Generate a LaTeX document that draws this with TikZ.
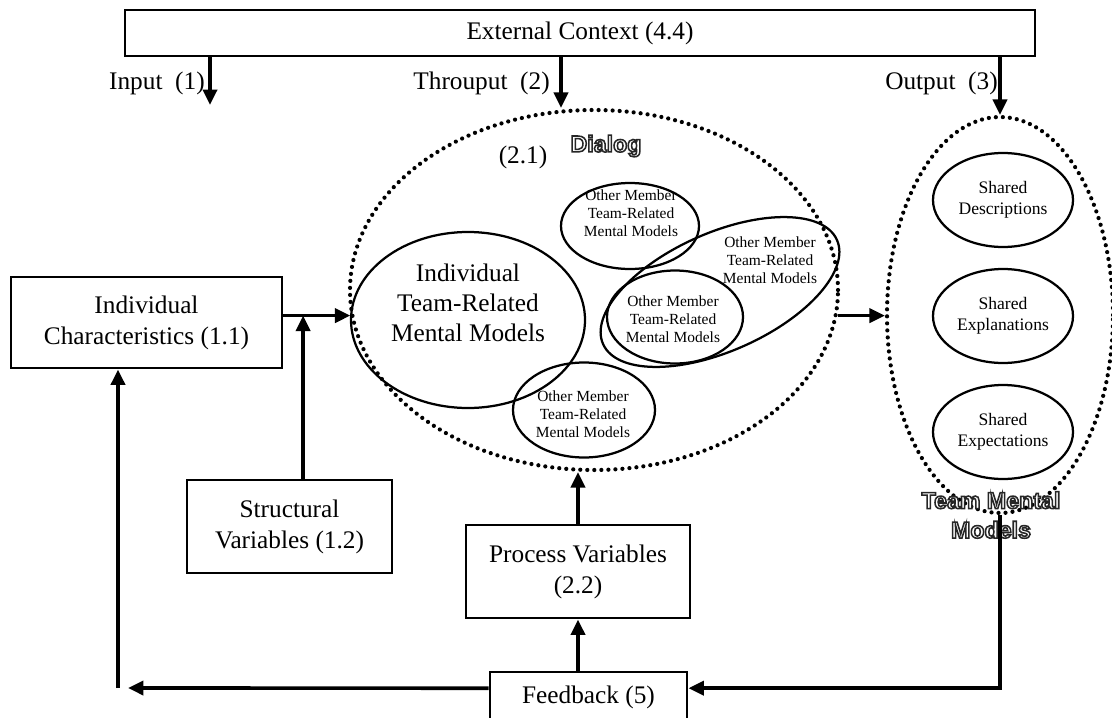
\documentclass[tikz,border=0pt]{standalone}
\usepackage{fontspec}
\setmainfont{Liberation Serif}
\newfontfamily\outfont{Liberation Sans}
\usetikzlibrary{shapes.geometric,arrows.meta}
\newcommand{\hollow}[1]{\textcolor{white}{\special{pdf:literal direct 2 Tr 1.1 w 0.15 G}#1\special{pdf:literal direct 0 Tr}}}

\begin{document}
\begin{tikzpicture}[
	blk/.style={draw, line width=2.1pt, align=center, inner sep=0pt, font=\fontsize{18}{22}\selectfont},
	ov/.style={draw, ellipse, line width=1.6pt, inner sep=0pt},
	dotring/.style={draw, ellipse, inner sep=0pt, line width=3pt, dash pattern=on 0pt off 5pt, line cap=round},
	arr/.style={-{Triangle[length=11pt,width=10pt]}, line width=2.6pt},
	lbl/.style={font=\fontsize{18}{22}\selectfont, align=center, inner sep=0pt},
	omtxt/.style={font=\fontsize{11}{12.8}\selectfont, align=center, inner sep=0pt},
	shr/.style={font=\fontsize{12.5}{15}\selectfont, align=center},
	hol/.style={font=\outfont\bfseries\fontsize{16.5}{21}\selectfont, align=center, inner sep=0pt}
]
	\useasboundingbox (0,0) rectangle (27.8,-17.925);

	\node[blk, minimum width=22.75cm, minimum height=1.15cm] (ext) at (14.5,-0.825) {External Context (4.4)};

	\node[lbl, anchor=east] (inlbl) at (5.125,-2.075) {Input\ \ (1)};
	\node[lbl, anchor=east] (thrlbl) at (13.75,-2.075) {Throuput\ \ (2)};
	\node[lbl, anchor=east] (outlbl) at (24.95,-2.075) {Output\ \ (3)};

	\node[blk, minimum width=6.775cm, minimum height=2.275cm] (ichar) at (3.6625,-8.0625) {Individual\\Characteristics (1.1)};
	\node[blk, minimum width=5.125cm, minimum height=2.325cm] (strvar) at (7.2375,-13.1625) {Structural\\Variables (1.2)};
	\node[blk, minimum width=5.6cm, minimum height=2.325cm] (procvar) at (14.45,-14.2875) {Process Variables\\(2.2)};
	\node[blk, minimum width=4.925cm, minimum height=1.25cm] (fb) at (14.7125,-17.425) {Feedback (5)};

	\node[dotring, minimum width=12.2cm, minimum height=9cm] (dialog) at (14.85,-7.25) {};
	\node[dotring, minimum width=5.65cm, minimum height=9.9cm] (tmm) at (25,-7.875) {};

	\node[lbl] (num21) at (13.075,-3.925) {(2.1)};
	\node[hol] (dlg) at (15.15,-3.65) {\hollow{Dialog}};

	\node[ov, minimum width=5.85cm, minimum height=4.4cm] (indiv) at (11.7,-8) {};
	\node[ov, minimum width=3.45cm, minimum height=2.15cm] (om1) at (15.75,-5.65) {};
	\node[ov, minimum width=6.4cm, minimum height=2.95cm, rotate=24] (om2) at (18,-7.3) {};
	\node[ov, minimum width=3.4cm, minimum height=2.325cm] (om3) at (16.875,-7.925) {};
	\node[ov, minimum width=3.55cm, minimum height=2.375cm] (om4) at (14.6,-10.25) {};

	\node[lbl, font=\fontsize{18}{21.5}\selectfont] (indivtxt) at (11.7,-7.575) {Individual\\Team-Related\\Mental Models};
	\node[omtxt] (om1txt) at (15.775,-5.325) {Other Member\\Team-Related\\Mental Models};
	\node[omtxt] (om2txt) at (19.25,-6.5) {Other Member\\Team-Related\\Mental Models};
	\node[omtxt] (om3txt) at (16.825,-7.975) {Other Member\\Team-Related\\Mental Models};
	\node[omtxt] (om4txt) at (14.575,-10.35) {Other Member\\Team-Related\\Mental Models};

	\node[ov, shr, minimum width=3.5cm, minimum height=2.35cm] (shdesc) at (25.075,-5) {Shared\\Descriptions};
	\node[ov, shr, minimum width=3.5cm, minimum height=2.35cm] (shexpl) at (25.075,-7.9) {Shared\\Explanations};
	\node[ov, shr, minimum width=3.5cm, minimum height=2.35cm] (shexp) at (25.075,-10.8) {Shared\\Expectations};

	\node[hol] (tmmtxt) at (24.775,-12.875) {\hollow{Team Mental}\\\hollow{Models}};

	\coordinate (inptip) at (5.25,-2.625);
	\coordinate (thrx) at (14.025,-2.7);
	\coordinate (sjoin) at ([xshift=3.4mm]strvar.north);
	\coordinate (fbend) at (3.2,-17.2);
	\coordinate (fbturn) at (2.95,-17.2);

	\draw[arr] (inptip |- ext.south) -- (inptip);
	\draw[arr] (thrx |- ext.south) -- (thrx |- dialog.north);
	\draw[arr] (tmm.north |- ext.south) -- (tmm.north);

	\draw[arr] (dialog.186 -| ichar.east) -- (dialog.186);
	\draw[arr] (sjoin) -- (sjoin |- dialog.186);
	\draw[arr] (dialog.354) -- (dialog.354 -| tmm.west);
	\draw[arr] (procvar.north) -- (procvar.north |- dialog.south);
	\draw[arr] (procvar.south |- fb.north) -- (procvar.south);

	\draw[arr] (tmm.south) |- ([yshift=2.2mm]fb.east);
	\draw[arr] ([yshift=2.2mm]fb.west) -- (fbend);
	\draw[arr] (fbturn) -- (fbturn |- ichar.south);
\end{tikzpicture}
\end{document}
